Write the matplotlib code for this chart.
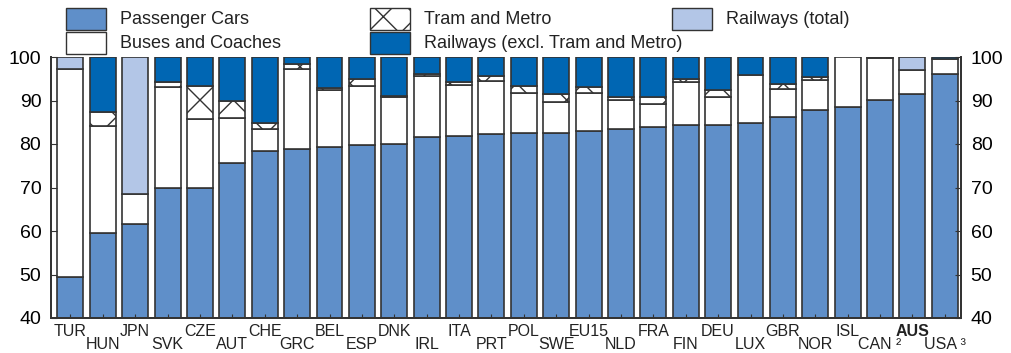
import numpy as np
import matplotlib
matplotlib.use("Agg")
import matplotlib.pyplot as plt
from matplotlib.patches import Rectangle
from matplotlib.transforms import blended_transform_factory, offset_copy

plt.rcParams['font.family'] = ['Liberation Sans', 'DejaVu Sans']
plt.rcParams['hatch.linewidth'] = 1.0

countries = ["TUR", "HUN", "JPN", "SVK", "CZE", "AUT", "CHE", "GRC", "BEL", "ESP",
             "DNK", "IRL", "ITA", "PRT", "POL", "SWE", "EU15", "NLD", "FRA", "FIN",
             "DEU", "LUX", "GBR", "NOR", "ISL", "CAN ²", "AUS", "USA ³"]

passenger_cars = [49.4, 59.5, 61.5, 69.9, 70.0, 75.7, 78.3, 78.9, 79.2, 79.7,
                  80.0, 81.6, 81.8, 82.4, 82.5, 82.6, 83.1, 83.4, 83.9, 84.3,
                  84.4, 84.9, 86.1, 87.8, 88.6, 90.1, 91.6, 96.0]
buses_coaches = [47.8, 24.6, 6.9, 23.2, 15.7, 10.2, 5.2, 18.3, 13.2, 13.7,
                 10.7, 14.1, 11.8, 12.0, 9.3, 7.0, 8.7, 6.7, 5.3, 10.0,
                 6.3, 11.0, 6.5, 6.8, 11.4, 9.6, 5.4, 3.5]
tram_metro = [0.0, 3.3, 0.0, 1.1, 7.6, 4.1, 1.4, 1.3, 0.5, 1.6,
              0.3, 0.5, 0.7, 1.2, 1.5, 1.9, 1.4, 0.8, 1.5, 0.6,
              1.6, 0.0, 1.1, 0.7, 0.0, 0.0, 0.0, 0.0]
railways_excl = [0.0, 12.6, 0.0, 5.8, 6.7, 10.0, 15.1, 1.5, 7.1, 5.0,
                 9.0, 3.8, 5.7, 4.4, 6.7, 8.5, 6.8, 9.1, 9.3, 5.1,
                 7.7, 4.1, 6.3, 4.7, 0.0, 0.3, 0.0, 0.5]
railways_total = [2.8, 0.0, 31.6, 0.0, 0.0, 0.0, 0.0, 0.0, 0.0, 0.0,
                  0.0, 0.0, 0.0, 0.0, 0.0, 0.0, 0.0, 0.0, 0.0, 0.0,
                  0.0, 0.0, 0.0, 0.0, 0.0, 0.0, 3.0, 0.0]

series = [
    ("Passenger Cars", passenger_cars, "#5f8fc9", None),
    ("Buses and Coaches", buses_coaches, "#ffffff", None),
    ("Tram and Metro", tram_metro, "#ffffff", "x"),
    ("Railways (excl. Tram and Metro)", railways_excl, "#0066b3", None),
    ("Railways (total)", railways_total, "#b3c6e7", None),
]

EDGE = "#333333"
fig = plt.figure(figsize=(10.11, 3.53), dpi=100)
ax = fig.add_axes([51 / 1011, 35 / 353, 910 / 1011, 261 / 353])

x = np.arange(len(countries))
bottom = np.full(len(countries), 40.0)
base = np.array(passenger_cars) - 40.0
for name, vals, color, hatch in series:
    v = np.array(vals, dtype=float)
    if name == "Passenger Cars":
        v = base
    m = v > 0
    ax.bar(x[m], v[m], bottom=bottom[m], width=0.8, color=color,
           edgecolor=EDGE, linewidth=1.2, hatch=hatch)
    bottom = bottom + v

ax.set_xlim(-0.6, len(countries) - 0.5)
ax.set_ylim(40, 100)
ax.set_yticks(range(40, 101, 10))
ax.tick_params(axis='y', direction='in', length=4, labelsize=14, pad=7,
               color=EDGE)
ax.set_xticks(x)
ax.set_xticklabels([])
ax.tick_params(axis='x', direction='in', length=3, color=EDGE)
ax.spines['top'].set_visible(False)
for s in ('left', 'right', 'bottom'):
    ax.spines[s].set_color(EDGE)
    ax.spines[s].set_linewidth(1.3)

axr = ax.twinx()
axr.set_ylim(40, 100)
axr.set_yticks(range(40, 101, 10))
axr.tick_params(axis='y', direction='in', length=4, labelsize=14, pad=7,
                color=EDGE)
axr.spines['top'].set_visible(False)
for s in ('left', 'right', 'bottom'):
    axr.spines[s].set_color(EDGE)
    axr.spines[s].set_linewidth(1.3)

# Country labels in two staggered rows below the bars
trans = blended_transform_factory(ax.transData, ax.transAxes)
for i, name in enumerate(countries):
    dy = -18 if i % 2 == 0 else -31
    t = offset_copy(trans, fig=fig, x=0, y=dy, units='dots')
    ax.text(i, 0, name, transform=t, ha='center', va='baseline',
            fontsize=11.5, color='#222222',
            fontweight='bold' if name == "AUS" else 'normal')

# Legend laid out in three columns above the plot
legend_pos = [(66, 19), (66, 43), (370, 19), (370, 43), (672, 19)]
order = [0, 1, 2, 3, 4]
for (px, py), idx in zip(legend_pos, order):
    name, _, color, hatch = series[idx]
    w, h = 40, 21
    r = Rectangle((px / 1011, 1 - (py + h / 2) / 353), w / 1011, h / 353,
                  transform=fig.transFigure, facecolor=color, edgecolor=EDGE,
                  linewidth=1.0, hatch=hatch)
    fig.patches.append(r)
    fig.text((px + w + 14) / 1011, 1 - py / 353, name, ha='left',
             va='center', fontsize=13, color='#222222')

fig.savefig("out.png", dpi=100)
